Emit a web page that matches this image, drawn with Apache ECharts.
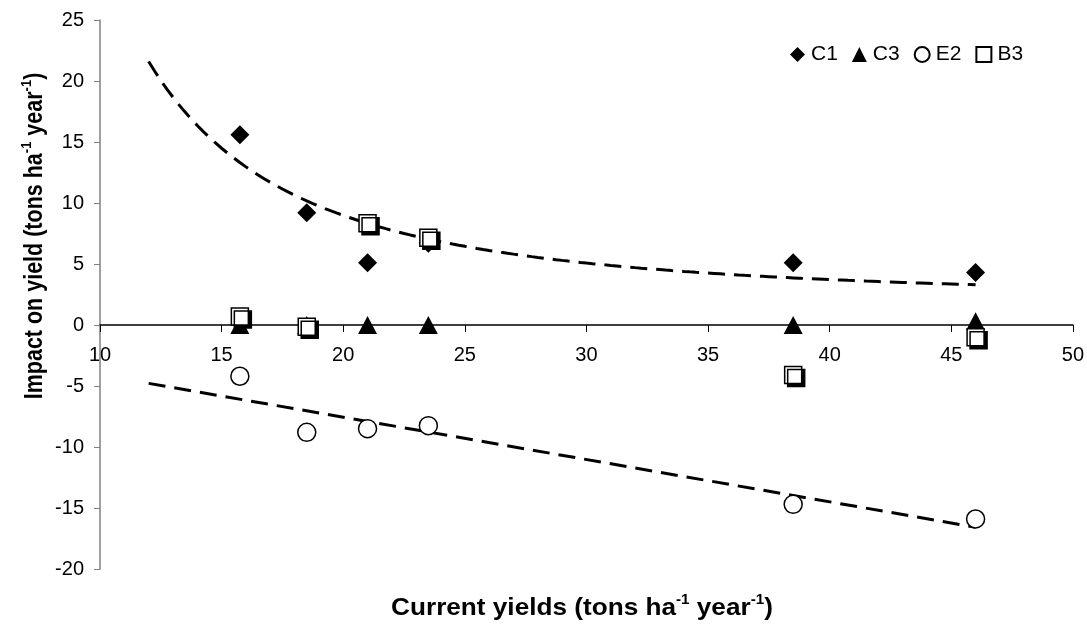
<!DOCTYPE html>
<html>
<head>
<meta charset="utf-8">
<script src="https://cdn.jsdelivr.net/npm/echarts@6/dist/echarts.min.js"></script>
<style>
html,body{margin:0;padding:0;background:#fff;}
#chart{width:1087px;height:630px;}
</style>
</head>
<body>
<div id="chart"></div>
<script>
// ---- data ----
const xValues = [15.75, 18.5, 21, 23.5, 38.5, 46];
const c1Values = [15.6, 9.2, 5.1, 6.7, 5.1, 4.3];
const c3Values = [0, 0, 0, 0, 0, 0.3];
const e2Values = [-4.2, -8.8, -8.5, -8.25, -14.7, -15.9];
const b3Values = [0.7, -0.15, 8.35, 7.15, -4.1, -1.0];
const seriesNames = ['C1', 'C3', 'E2', 'B3'];
const xTicks = [10, 15, 20, 25, 30, 35, 40, 45, 50];
const yTicks = [-20, -15, -10, -5, 0, 5, 10, 15, 20, 25];
// upper trend line y = scale * (x/ref)^power + offset (coefficients)
const upperTrendCoef = [19.6, 12, -2.02, 2.0];
const trendRange = [12, 46];

// ---- helpers ----
function pairs(xs, ys) { return xs.map((x, i) => [x, ys[i]]); }
function linearFit(xs, ys) {
  const n = xs.length;
  const mx = xs.reduce((a, b) => a + b, 0) / n;
  const my = ys.reduce((a, b) => a + b, 0) / n;
  let sxy = 0, sxx = 0;
  for (let i = 0; i < n; i++) { sxy += (xs[i] - mx) * (ys[i] - my); sxx += (xs[i] - mx) ** 2; }
  const m = sxy / sxx;
  return [m, my - m * mx];
}
const upperTrend = [];
for (let x = trendRange[0]; x <= trendRange[1] + 1e-9; x += 0.25) {
  const [s, r, p, o] = upperTrendCoef;
  upperTrend.push([x, s * Math.pow(x / r, p) + o]);
}
const [lm, lb] = linearFit(xValues, e2Values);
const lowerTrend = [[trendRange[0], lm * trendRange[0] + lb], [trendRange[1], lm * trendRange[1] + lb]];

const FONT = 'Liberation Sans, Arial, sans-serif';
const chart = echarts.init(document.getElementById('chart'), null, { renderer: 'canvas' });

const trendStyle = { color: '#000', width: 3, type: [17, 9] };
const gridTop = 20, gridBottom = 61, chartH = 630;
const yMin = yTicks[0], yMax = yTicks[yTicks.length - 1];
// shift the x axis up so it sits on y = 0 (labels included)
const plotH = chartH - gridTop - gridBottom;
const zeroShift = -plotH * (0 - yMin) / (yMax - yMin);

const richTitle = (size, sup) => ({
  b: { fontSize: size, fontWeight: 'bold', fontFamily: FONT, fill: '#000', lineHeight: size + 5 },
  s: { fontSize: sup, fontWeight: 'bold', fontFamily: FONT, fill: '#000', lineHeight: sup + 1, verticalAlign: 'top' }
});

chart.setOption({
  animation: false,
  backgroundColor: '#fff',
  textStyle: { fontFamily: FONT },
  grid: { left: 100, right: 12, top: gridTop, bottom: gridBottom, containLabel: false },
  legend: {
    data: [
      { name: seriesNames[0] }, { name: seriesNames[1] }, { name: seriesNames[2] },
      { name: seriesNames[3], itemStyle: { shadowColor: 'transparent', shadowOffsetX: 0, shadowOffsetY: 0 } }
    ],
    left: 785, top: 39,
    itemWidth: 15, itemHeight: 15, itemGap: 14,
    textStyle: { fontSize: 21, color: '#000', fontFamily: FONT, padding: [0, 0, 0, 1] },
    selectedMode: false
  },
  xAxis: {
    type: 'value', min: xTicks[0], max: xTicks[xTicks.length - 1], interval: 5,
    offset: zeroShift,
    axisLine: { onZero: false, lineStyle: { color: '#000', width: 1.5 } },
    axisTick: { show: true, inside: false, length: 7, lineStyle: { color: '#000' } },
    axisLabel: { fontSize: 20, color: '#000', margin: 20, fontFamily: FONT },
    splitLine: { show: false }
  },
  yAxis: {
    type: 'value', min: yMin, max: yMax, interval: 5,
    axisLine: { show: true, onZero: false, lineStyle: { color: '#808080', width: 1.5 } },
    axisTick: { show: true, inside: false, length: 6, lineStyle: { color: '#808080' } },
    axisLabel: { fontSize: 20, color: '#000', margin: 16, fontFamily: FONT },
    splitLine: { show: false }
  },
  graphic: [
    {
      type: 'text', x: 582, y: 608, scaleX: 1.09, scaleY: 1,
      style: {
        text: '{b|Current yields (tons ha}{s|-1}{b| year}{s|-1}{b|)}',
        align: 'center', verticalAlign: 'middle',
        rich: richTitle(24, 14)
      }
    },
    {
      type: 'text', x: 35, y: 236, rotation: Math.PI / 2, scaleX: 1, scaleY: 1.17,
      style: {
        text: '{b|Impact on yield (tons ha}{s|-1}{b| year}{s|-1}{b|)}',
        align: 'center', verticalAlign: 'middle',
        rich: richTitle(21.5, 13)
      }
    }
  ],
  series: [
    { name: 'trendUpper', type: 'line', data: upperTrend, showSymbol: false, symbol: 'none', smooth: false,
      lineStyle: trendStyle, z: 1, silent: true },
    { name: 'trendLower', type: 'line', data: lowerTrend, showSymbol: false, symbol: 'none',
      lineStyle: trendStyle, z: 1, silent: true },
    { name: seriesNames[0], type: 'scatter', data: pairs(xValues, c1Values), symbol: 'diamond', symbolSize: [19, 19],
      itemStyle: { color: '#000', opacity: 1 }, z: 3 },
    { name: seriesNames[1], type: 'scatter', data: pairs(xValues, c3Values), symbol: 'triangle', symbolSize: [19, 18],
      itemStyle: { color: '#000', opacity: 1 }, z: 3 },
    { name: seriesNames[2], type: 'scatter', data: pairs(xValues, e2Values), symbol: 'circle', symbolSize: 18,
      itemStyle: { color: '#fff', borderColor: '#000', borderWidth: 1.5, opacity: 1 }, z: 3 },
    { name: seriesNames[3], type: 'scatter', data: pairs(xValues, b3Values), symbol: 'rect', symbolSize: 17,
      itemStyle: { color: '#fff', borderColor: '#000', borderWidth: 1.5, opacity: 1,
        shadowColor: '#000', shadowBlur: 0, shadowOffsetX: 3, shadowOffsetY: 3 }, z: 4 }
  ]
});
</script>
</body>
</html>
